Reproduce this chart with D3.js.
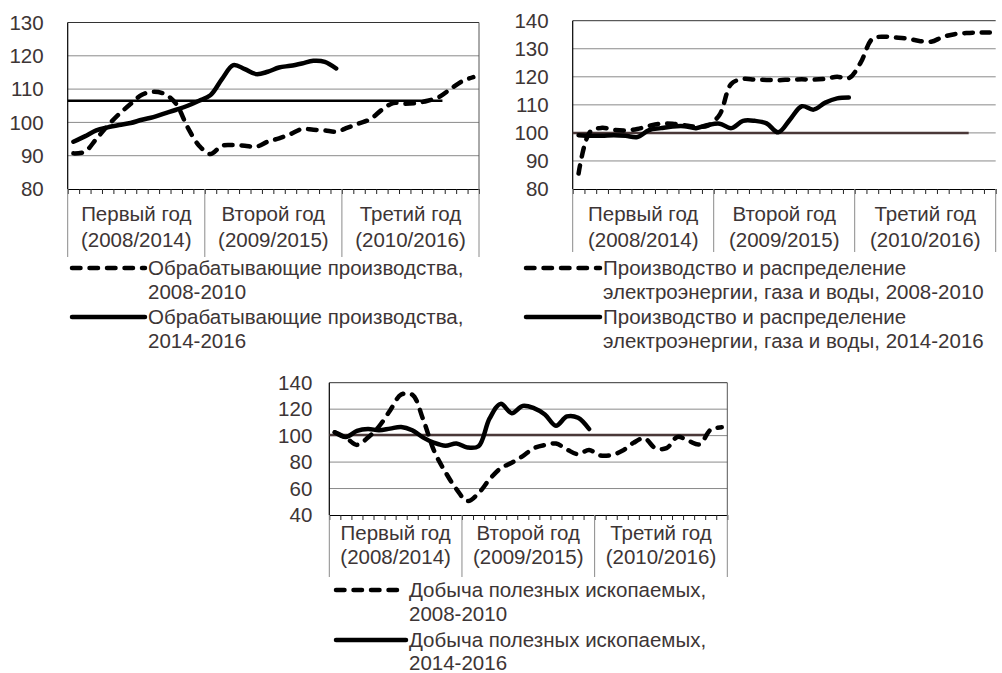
<!DOCTYPE html>
<html>
<head>
<meta charset="utf-8">
<script src="https://cdnjs.cloudflare.com/ajax/libs/d3/7.8.5/d3.min.js"></script>
<style>
  body { margin: 0; background: #fff; }
  text { font-family: "Liberation Sans", Arial, sans-serif; fill: #3d3535; }
</style>
</head>
<body>
<script>
// year categories on the x axis (36 months, 12 per year)
const yearLabels = [
  ['Первый год', '(2008/2014)'],
  ['Второй год', '(2009/2015)'],
  ['Третий год', '(2010/2016)']
];
const monthsPerYear = 12;

// Обрабатывающие производства
const manufTicks = [80, 90, 100, 110, 120, 130];
const manuf2008 = [90.7, 91.2, 95, 99, 102.5, 105.5, 108.3, 109.2, 108.5, 105.5, 98.5, 93,
                   90.5, 93, 93.2, 93, 92.7, 94.2, 95.2, 96.5, 98, 97.8, 97.6, 97.2,
                   98.4, 99.7, 101, 103.8, 105.8, 105.6, 105.8, 106.5, 107.6, 110, 112.3, 113.6];
const manuf2014 = [94.2, 95.8, 97.6, 98.5, 99.2, 99.8, 100.8, 101.6, 102.7, 103.8, 105, 106.5,
                   108.2, 113, 117.2, 116, 114.5, 115.2, 116.5, 117, 117.7, 118.5, 118.2, 116.2];
const manufRef = 106.5;
const manufRefMonths = 32.8;

// Производство и распределение электроэнергии, газа и воды
const energyTicks = [80, 90, 100, 110, 120, 130, 140];
const energy2008 = [85.5, 100.5, 101.8, 101.1, 100.9, 101.4, 102.5, 103.3, 103.3, 102.7, 102.2, 102.6,
                    106.5, 117.5, 119.2, 119, 118.9, 118.8, 119, 119.1, 119, 119.3, 120, 119.5,
                    125, 133.5, 134.3, 134, 133.6, 132.8, 132.5, 134.2, 135.2, 135.6, 135.8, 135.8];
const energy2014 = [99.2, 99, 99, 99.2, 99, 98.5, 101, 101.7, 102.3, 102.4, 101.7, 102.8,
                    103.3, 101.7, 104.3, 104.3, 103.4, 100.2, 104.8, 109.5, 108.3, 110.8, 112.3, 112.6];
const energyRef = 100;
const energyRefMonths = 33.7;

// Добыча полезных ископаемых
const miningTicks = [40, 60, 80, 100, 120, 140];
const mining2008 = [102.5, 98.5, 93, 98.5, 107, 119, 131, 131, 112, 88, 72.5, 59.5,
                    50.5, 56.5, 67, 75.3, 79.5, 84.5, 90.5, 92.9, 94, 89.5, 86, 89.1,
                    85, 85.3, 88.5, 94.5, 98, 90.5, 90.5, 99, 96, 93.5, 104.5, 106.3];
const mining2014 = [102.5, 99, 103.5, 105, 104, 105.3, 106.5, 104, 98.5, 94.5, 92.4, 94,
                    91, 92, 113, 124, 117, 122.5, 120.8, 116, 107.5, 114.5, 113.5, 105];
const miningRef = 100.5;
const miningRefMonths = 34;

const legendManuf = [['Обрабатывающие производства,', '2008-2010'],
                     ['Обрабатывающие производства,', '2014-2016']];
const legendEnergy = [['Производство и распределение', 'электроэнергии, газа и воды, 2008-2010'],
                      ['Производство и распределение', 'электроэнергии, газа и воды, 2014-2016']];
const legendMining = [['Добыча полезных ископаемых,', '2008-2010'],
                      ['Добыча полезных ископаемых,', '2014-2016']];

const panels = [
  { left: 67.7, right: 479, top: 22.5, bottom: 189, ticks: manufTicks,
    dashed: manuf2008, solid: manuf2014, ref: manufRef, refMonths: manufRefMonths, refColor: '#000',
    sepBottom: 257, labelGap: 24, catY: [214, 240], rightBorder: true,
    legend: { x1: 72, x2: 145, ys: [[268, 292], [317, 341]], items: legendManuf } },
  { left: 572.7, right: 995.7, top: 20.7, bottom: 189, ticks: energyTicks,
    dashed: energy2008, solid: energy2014, ref: energyRef, refMonths: energyRefMonths, refColor: '#4a3838',
    sepBottom: 252, labelGap: 24, catY: [214, 240], rightBorder: false,
    legend: { x1: 526, x2: 600, ys: [[268, 292], [317, 341]], items: legendEnergy } },
  { left: 329.3, right: 727.3, top: 382.7, bottom: 515, ticks: miningTicks,
    dashed: mining2008, solid: mining2014, ref: miningRef, refMonths: miningRefMonths, refColor: '#4a3838',
    sepBottom: 577, labelGap: 17, catY: [533, 557], rightBorder: true,
    legend: { x1: 336, x2: 406, ys: [[590, 614], [640, 663]], items: legendMining } }
];

const svg = d3.select('body').append('svg')
  .attr('width', 1002)
  .attr('height', 673);

const fontSize = 20.5;
const lineW = 4.5;
const dash = '8.5 9';

panels.forEach(p => {
  const g = svg.append('g');
  const nMonths = yearLabels.length * monthsPerYear;

  const x = d3.scaleLinear().domain([0, nMonths]).range([p.left, p.right]);
  const y = d3.scaleLinear().domain(d3.extent(p.ticks)).range([p.bottom, p.top]);

  // gridlines
  g.selectAll('line.grid')
    .data(p.ticks.slice(1, -1))
    .enter()
    .append('line')
    .attr('class', 'grid')
    .attr('x1', p.left).attr('x2', p.right)
    .attr('y1', d => y(d)).attr('y2', d => y(d))
    .style('stroke', '#8a8a8a')
    .style('stroke-width', 1);

  // frame: top + right
  const yTop = y(p.ticks[p.ticks.length - 1]);
  g.append('line')
    .attr('x1', p.left).attr('x2', p.right)
    .attr('y1', yTop).attr('y2', yTop)
    .style('stroke', '#333').style('stroke-width', 1);
  if (p.rightBorder) {
    g.append('line')
      .attr('x1', p.right).attr('x2', p.right)
      .attr('y1', p.top).attr('y2', p.bottom)
      .style('stroke', '#555').style('stroke-width', 1);
  }

  // y labels
  g.selectAll('text.ylab')
    .data(p.ticks)
    .enter()
    .append('text')
    .attr('class', 'ylab')
    .attr('x', p.left - p.labelGap)
    .attr('y', d => y(d))
    .attr('dy', '0.35em')
    .style('text-anchor', 'end')
    .style('font-size', `${fontSize}px`)
    .text(d => d);

  // x axis with month ticks
  const xAxis = d3.axisBottom(x)
    .tickValues(d3.range(nMonths + 1))
    .tickSize(5)
    .tickSizeOuter(0)
    .tickFormat('');
  const ax = g.append('g')
    .attr('transform', `translate(0, ${p.bottom})`)
    .call(xAxis);
  ax.select('.domain').style('stroke', '#000').style('stroke-width', 1.2);
  ax.selectAll('.tick line').style('stroke', '#222');

  // year separators
  g.selectAll('line.sep')
    .data(d3.range(0, nMonths + 1, monthsPerYear))
    .enter()
    .append('line')
    .attr('class', 'sep')
    .attr('x1', d => x(d)).attr('x2', d => x(d))
    .attr('y1', p.bottom).attr('y2', p.sepBottom)
    .style('stroke', '#8a8a8a')
    .style('stroke-width', 1);

  // y axis line
  g.append('line')
    .attr('x1', p.left).attr('x2', p.left)
    .attr('y1', p.top).attr('y2', p.bottom)
    .style('stroke', '#000').style('stroke-width', 1.2);

  // year labels
  const cat = g.selectAll('text.cat')
    .data(yearLabels)
    .enter()
    .append('text')
    .attr('class', 'cat')
    .style('text-anchor', 'middle')
    .style('font-size', `${fontSize}px`);
  cat.selectAll('tspan')
    .data((d, i) => d.map(t => ({ t: t, i: i })))
    .enter()
    .append('tspan')
    .attr('x', d => x((d.i + 0.5) * monthsPerYear))
    .attr('y', (d, j) => p.catY[j])
    .attr('dy', '0.35em')
    .text(d => d.t);

  // reference line
  g.append('line')
    .attr('x1', x(0)).attr('x2', x(p.refMonths))
    .attr('y1', y(p.ref)).attr('y2', y(p.ref))
    .style('stroke', p.refColor)
    .style('stroke-width', 2.5);

  const line = d3.line()
    .x((d, i) => x(i + 0.5))
    .y(d => y(d))
    .curve(d3.curveCatmullRom.alpha(0.5));

  g.append('path')
    .datum(p.dashed)
    .attr('d', line)
    .style('fill', 'none')
    .style('stroke', '#000')
    .style('stroke-width', lineW)
    .style('stroke-linecap', 'round')
    .style('stroke-dasharray', dash);

  g.append('path')
    .datum(p.solid)
    .attr('d', line)
    .style('fill', 'none')
    .style('stroke', '#000')
    .style('stroke-width', lineW)
    .style('stroke-linecap', 'round');

  // legend
  p.legend.items.forEach((item, k) => {
    const ys = p.legend.ys[k];
    g.append('line')
      .attr('x1', p.legend.x1).attr('x2', p.legend.x2)
      .attr('y1', ys[0]).attr('y2', ys[0])
      .style('stroke', '#000')
      .style('stroke-width', lineW)
      .style('stroke-linecap', 'round')
      .style('stroke-dasharray', k === 0 ? dash : null);
    g.append('text')
      .style('font-size', `${fontSize}px`)
      .selectAll('tspan')
      .data(item)
      .enter()
      .append('tspan')
      .attr('x', p.legend.x2 + 3)
      .attr('y', (d, j) => ys[j])
      .attr('dy', '0.35em')
      .text(d => d);
  });
});
</script>
</body>
</html>
